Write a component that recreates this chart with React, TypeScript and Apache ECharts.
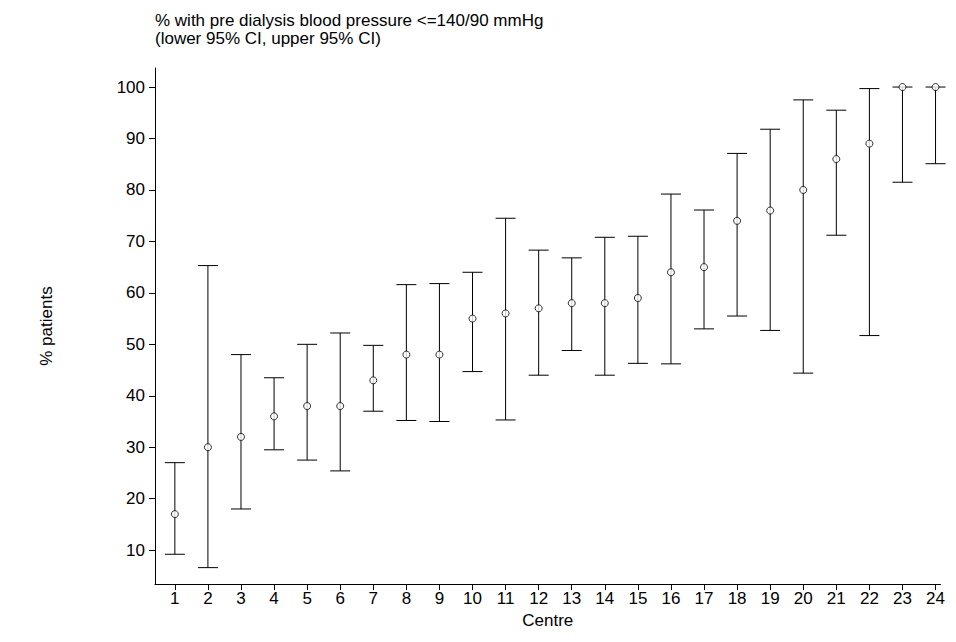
import React, { useEffect, useRef } from "react";
import * as echarts from "echarts";

const centres = [1,2,3,4,5,6,7,8,9,10,11,12,13,14,15,16,17,18,19,20,21,22,23,24];
const means = [17,30,32,36,38,38,43,48,48,55,56,57,58,58,59,64,65,74,76,80,86,89,100,100];
const upper = [27,65.3,48,43.5,50,52.2,49.8,61.6,61.8,64,74.5,68.3,66.8,70.8,71,79.2,76.1,87.1,91.8,97.5,95.5,99.7,100,100];
const lower = [9.2,6.6,18,29.5,27.5,25.4,37,35.2,35,44.7,35.3,44,48.8,44,46.3,46.2,53,55.5,52.7,44.4,71.2,51.7,81.5,85.1];
const yTicks = [10,20,30,40,50,60,70,80,90,100];

export default function App() {
  const ref = useRef<HTMLDivElement>(null);
  useEffect(() => {
    const chart = echarts.init(ref.current!, null, { renderer: "svg" });
    const font = "Liberation Sans, Arial, sans-serif";
    chart.setOption({
      animation: false,
      textStyle: { fontFamily: font },
      title: {
        text: "% with pre dialysis blood pressure <=140/90 mmHg\n(lower 95% CI, upper 95% CI)",
        left: 142, top: -2,
        textStyle: { fontSize: 17, fontWeight: "normal", color: "#000", lineHeight: 18, fontFamily: font },
      },
      grid: { left: 147, right: 0, top: 60, bottom: 49 },
      xAxis: {
        type: "value", min: 0.4, max: 24.15,
        name: "Centre", nameLocation: "middle", nameGap: 22,
        nameTextStyle: { fontSize: 17, color: "#000" },
        axisLine: { lineStyle: { color: "#000" } },
        axisTick: { customValues: centres, length: 6, lineStyle: { color: "#000" } },
        axisLabel: { customValues: centres, fontSize: 17, color: "#000", margin: 6 },
        splitLine: { show: false },
      },
      yAxis: {
        type: "value", min: 3.4, max: 103.7,
        name: "% patients", nameLocation: "middle", nameGap: 100, nameRotate: 90,
        nameTextStyle: { fontSize: 17, color: "#000" },
        axisLine: { show: true, lineStyle: { color: "#000" } },
        axisTick: { show: true, customValues: yTicks, length: 6, lineStyle: { color: "#000" } },
        axisLabel: { customValues: yTicks, fontSize: 17, color: "#000", margin: 10 },
        splitLine: { show: false },
      },
      series: [
        {
          type: "custom",
          data: centres.map((c, i) => [c, lower[i], upper[i]]),
          renderItem: (params: any, api: any) => {
            const x = api.value(0);
            const lo = api.coord([x, api.value(1)]);
            const hi = api.coord([x, api.value(2)]);
            const w = 10;
            const style = { stroke: "#000", lineWidth: 1 };
            return {
              type: "group",
              children: [
                { type: "line", shape: { x1: lo[0], y1: lo[1], x2: hi[0], y2: hi[1] }, style },
                { type: "line", shape: { x1: lo[0] - w, y1: lo[1], x2: lo[0] + w, y2: lo[1] }, style },
                { type: "line", shape: { x1: hi[0] - w, y1: hi[1], x2: hi[0] + w, y2: hi[1] }, style },
              ],
            };
          },
        },
        {
          type: "scatter",
          data: centres.map((c, i) => [c, means[i]]),
          symbol: "circle", symbolSize: 7,
          itemStyle: { color: "#fff", borderColor: "#000", borderWidth: 1 },
          z: 5,
        },
      ],
    });
    return () => chart.dispose();
  }, []);
  return <div ref={ref} style={{ width: 940, height: 626 }} />;
}
